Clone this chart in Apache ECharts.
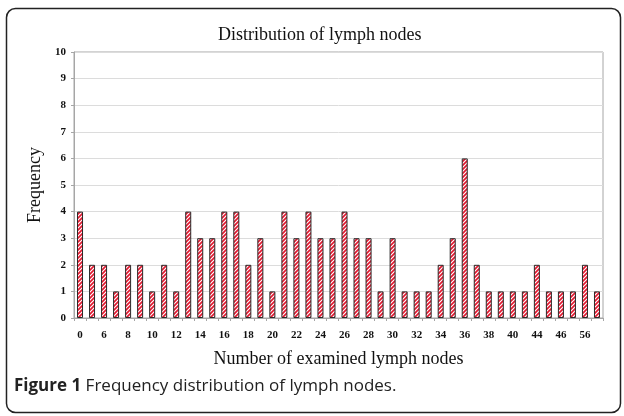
<!DOCTYPE html>
<html>
<head>
<meta charset="utf-8">
<script src="https://cdn.jsdelivr.net/npm/echarts@6/dist/echarts.min.js"></script>
<style>
html,body{margin:0;padding:0;background:#fff;}
#chart{width:624px;height:416px;}
</style>
</head>
<body>
<div id="chart"></div>
<script>
// Categories (number of examined lymph nodes); unlabeled ones are estimates
var categories = ['0','5','6','7','8','9','10','11','12','13','14','15','16','17','18','19','20','21','22','23','24','25','26','27','28','29','30','31','32','33','34','35','36','37','38','39','40','42','44','45','46','48','56','58'];
var frequency = [4,2,2,1,2,2,1,2,1,4,3,3,4,4,2,3,1,4,3,4,3,3,4,3,3,1,3,1,1,1,2,3,6,2,1,1,1,1,2,1,1,1,2,1];
var yTicks = [0,1,2,3,4,5,6,7,8,9,10];

// striped fill pattern
var pc = document.createElement('canvas');
pc.width = 4; pc.height = 4;
var ctx = pc.getContext('2d');
ctx.fillStyle = '#ffffff';
ctx.fillRect(0,0,4,4);
ctx.strokeStyle = '#e3172f';
ctx.lineWidth = 1.7;
ctx.beginPath();
ctx.moveTo(-1,5); ctx.lineTo(5,-1);
ctx.moveTo(-1,1); ctx.lineTo(1,-1);
ctx.moveTo(3,5); ctx.lineTo(5,3);
ctx.stroke();

var chart = echarts.init(document.getElementById('chart'), null, {renderer:'canvas'});
var serif = '"Liberation Serif", "DejaVu Serif", serif';
chart.setOption({
  animation: false,
  backgroundColor: '#ffffff',
  title: {
    text: 'Distribution of lymph nodes',
    left: 213, top: 21,
    textStyle: {fontFamily: serif, fontSize: 18, fontWeight: 'normal', color: '#111'}
  },
  grid: {left: 74, right: 21, top: 52, bottom: 98, show: true, borderColor: '#a6a6a6', borderWidth: 1},
  xAxis: {
    type: 'category',
    data: categories,
    name: 'Number of examined lymph nodes',
    nameLocation: 'middle',
    nameGap: 32,
    nameTextStyle: {fontFamily: serif, fontSize: 18, color: '#111'},
    axisLine: {lineStyle: {color: '#a6a6a6'}},
    axisTick: {show: true, interval: 0, length: 3, lineStyle: {color: '#a6a6a6'}},
    axisLabel: {interval: 1, margin: 12, fontFamily: serif, fontSize: 11, fontWeight: 'bold', color: '#111'}
  },
  yAxis: {
    type: 'value',
    min: 0, max: 10, interval: 1,
    name: 'Frequency',
    nameLocation: 'middle',
    nameGap: 27,
    nameTextStyle: {fontFamily: serif, fontSize: 18, color: '#111'},
    axisLine: {show: true, lineStyle: {color: '#a6a6a6'}},
    axisTick: {show: true, length: 3, lineStyle: {color: '#a6a6a6'}},
    axisLabel: {margin: 8, fontFamily: serif, fontSize: 11, fontWeight: 'bold', color: '#111',
      formatter: function(v){ return yTicks.indexOf(v) >= 0 ? String(v) : ''; }},
    splitLine: {lineStyle: {color: '#dcdcdc'}}
  },
  series: [{
    type: 'bar',
    data: frequency,
    barWidth: '50%',
    itemStyle: {color: {image: pc, repeat: 'repeat'}, borderColor: '#2a2a2a', borderWidth: 1}
  }],
  graphic: [
    {type: 'rect', shape: {x: 6.5, y: 8.5, width: 614, height: 404, r: 9}, style: {fill: 'none', stroke: '#222', lineWidth: 1.5}, silent: true},
    {type: 'text', left: 14, top: 378, style: {
      text: '{b|Figure 1} Frequency distribution of lymph nodes.',
      rich: {b: {fontFamily: '"Open Sans", sans-serif', fontSize: 17, fontWeight: 'bold', fill: '#222'}},
      fontFamily: '"Open Sans", sans-serif', fontSize: 17, fill: '#222'
    }}
  ]
});
</script>
</body>
</html>
